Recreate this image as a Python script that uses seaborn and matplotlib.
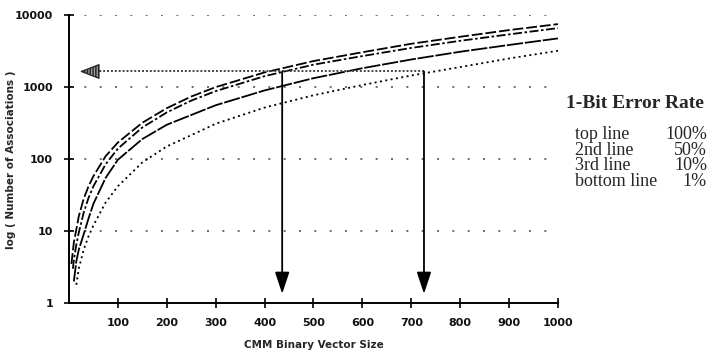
import numpy as np
import pandas as pd
import matplotlib
matplotlib.use("Agg")
import matplotlib.pyplot as plt
import seaborn as sns

# ---- data ----
vector_size = [5, 8, 10, 15, 20, 30, 40, 50, 75, 100, 150, 200, 250, 300,
               400, 500, 600, 700, 800, 900, 1000]
top_line    = [3.5, 5.3, 7, 10.5, 16, 28, 42, 58, 110, 170, 320, 510, 740, 1000,
               1600, 2300, 3050, 4000, 5000, 6200, 7500]
second_line = [np.nan, 3, 4, 6.5, 9.5, 18, 29, 42, 85, 140, 275, 445, 650, 880,
               1420, 2050, 2700, 3500, 4400, 5400, 6600]
third_line  = [np.nan, np.nan, 2, 3.8, 5.5, 9, 15, 24, 55, 98, 190, 300, 410, 560,
               900, 1330, 1830, 2420, 3100, 3850, 4750]
bottom_line = [np.nan, np.nan, np.nan, 1.8, 3, 5.5, 8.5, 12, 25, 42, 90, 150, 215, 310,
               520, 770, 1070, 1450, 1900, 2500, 3200]

series_names = ["top line", "2nd line", "3rd line", "bottom line"]
rates = ["100%", "50%", "10%", "1%"]

arrow_level = 1650
arrow_x = [436, 726]
arrow_tip = 1.35
arrow_left = 22

x_ticks = [100, 200, 300, 400, 500, 600, 700, 800, 900, 1000]
y_ticks = [1, 10, 100, 1000, 10000]
y_ticklabels = ["1", "10", "100", "1000", "10000"]

df = pd.DataFrame({"size": vector_size,
                   "top line": top_line, "2nd line": second_line,
                   "3rd line": third_line, "bottom line": bottom_line})
long = df.melt(id_vars="size", var_name="series", value_name="assoc").dropna()

sns.set_theme(style="white")
plt.rcParams["font.family"] = ["DejaVu Sans"]

fig = plt.figure(figsize=(7.17, 3.6), dpi=100)
ax = fig.add_axes([0.0962, 0.158, 0.682, 0.8])

dash_map = {"top line": (6, 1.6), "2nd line": (5, 1.4, 1.4, 1.4),
            "3rd line": (9, 1.0), "bottom line": (1.1, 1.9)}
sns.lineplot(data=long, x="size", y="assoc", style="series", dashes=dash_map,
             style_order=series_names, color="black", lw=1.3, ax=ax, legend=False,
             estimator=None, sort=True)

ax.set_yscale("log")
ax.set_xlim(0, 1000)
ax.set_ylim(1, 10000)
ax.set_xticks(x_ticks)
ax.set_xticklabels([str(t) for t in x_ticks])
ax.set_yticks(y_ticks)
ax.set_yticklabels(y_ticklabels)
ax.yaxis.set_minor_locator(matplotlib.ticker.NullLocator())

for s in ["top", "right"]:
    ax.spines[s].set_visible(False)
for s in ["left", "bottom"]:
    ax.spines[s].set_color("black")
    ax.spines[s].set_linewidth(1.4)

ax.tick_params(axis="both", direction="inout", length=7, width=1.2, color="black",
               left=True, bottom=True)
ax.tick_params(axis="y", pad=8)
ax.tick_params(axis="x", pad=7)
for lab in ax.get_xticklabels() + ax.get_yticklabels():
    lab.set_fontweight("bold")
    lab.set_fontsize(8)
    lab.set_color("#111111")

ax.yaxis.grid(True, linestyle=(0, (1.2, 8)), color="#555555", lw=1.2)
ax.xaxis.grid(False)

ax.set_xlabel("CMM Binary Vector Size", fontsize=7.5, fontweight="bold", labelpad=9)
ax.set_ylabel("")
fig.text(11 / 717, 1 - 160 / 360, "log ( Number of Associations )", rotation=90,
         fontsize=7.5, fontweight="bold", ha="center", va="center")

# vertical arrows
for xv in arrow_x:
    ax.annotate("", xy=(xv, arrow_tip), xytext=(xv, arrow_level),
                arrowprops=dict(arrowstyle="-|>,head_length=0.6,head_width=0.2",
                                mutation_scale=22, color="black", lw=1.3,
                                shrinkA=0, shrinkB=0))

# horizontal dotted arrow pointing left
ax.plot([arrow_x[1], arrow_left + 36], [arrow_level, arrow_level],
        linestyle=(0, (1, 1)), color="#444444", lw=1.4)
ax.annotate("", xy=(arrow_left, arrow_level), xytext=(arrow_left + 40, arrow_level),
            arrowprops=dict(arrowstyle="-|>,head_length=0.9,head_width=0.35",
                            mutation_scale=14, facecolor="#9a9a9a",
                            edgecolor="#222222", lw=0.9, hatch="||||||",
                            shrinkA=0, shrinkB=0))

# right-hand legend text
fig.text(566 / 717, 1 - 104 / 360, "1-Bit Error Rate", fontsize=14, fontweight="bold",
         family="Liberation Serif", va="center", ha="left")
fig.text(575 / 717, 1 - 158 / 360, "\n".join(series_names), fontsize=13,
         family="Liberation Serif", va="center", ha="left", linespacing=0.88)
fig.text(707 / 717, 1 - 158 / 360, "\n".join(rates), fontsize=13,
         family="Liberation Serif", va="center", ha="right", multialignment="right",
         linespacing=0.88)

fig.savefig("out.png", dpi=100)
